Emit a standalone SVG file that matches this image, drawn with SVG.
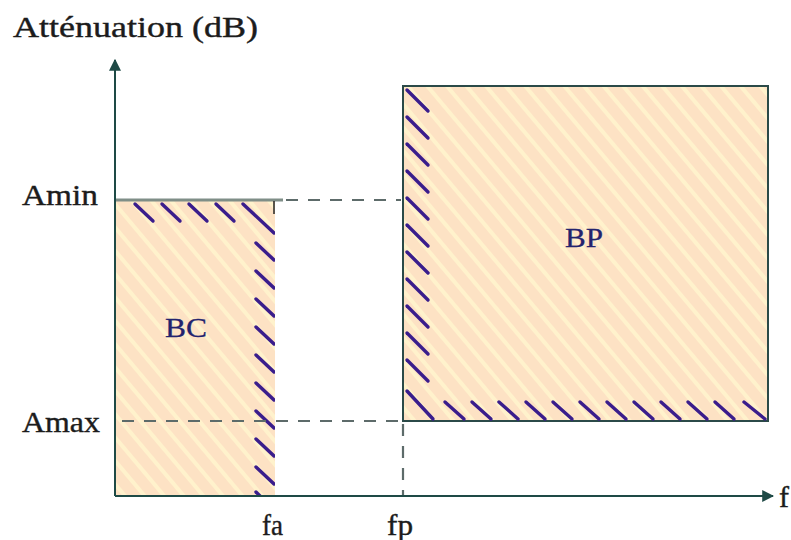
<svg xmlns="http://www.w3.org/2000/svg" width="791" height="540" viewBox="0 0 791 540">
<style>
.lbl{font-family:"Liberation Serif","Times New Roman",serif;fill:#1c1c1c;stroke:#1c1c1c;stroke-width:0.4;font-size:30px}
.zone{font-family:"Liberation Serif","Times New Roman",serif;fill:#23236e;stroke:#23236e;stroke-width:0.3;font-size:28px}
.axis{stroke:#1e4a46;stroke-width:2;fill:none}
.dash{stroke:#5d6b6a;stroke-width:2.2;stroke-dasharray:12 10;fill:none}
.hatch{stroke:#3a1d8c;stroke-width:3.4;stroke-linecap:round;fill:none}
.fill{fill:url(#stripes)}
</style>
<defs>
<pattern id="stripes" patternUnits="userSpaceOnUse" width="15" height="15" patternTransform="rotate(-40)">
<rect width="15" height="15" fill="#fde2c4"/>
<rect x="0" y="0" width="4" height="15" fill="#fff2cc"/>
</pattern>
<marker id="arr" viewBox="0 0 10 10" refX="9" refY="5" markerWidth="6" markerHeight="6" orient="auto-start-reverse" markerUnits="strokeWidth">
<path d="M0,0 L10,5 L0,10 z" fill="#1e4a46"/>
</marker>
<clipPath id="bcclip"><rect x="115" y="200" width="160" height="296"/></clipPath>
</defs>

<rect width="791" height="540" fill="#ffffff"/>

<g id="BC">
<rect class="fill" x="115" y="200" width="160" height="296"/>
<g class="hatch" clip-path="url(#bcclip)">
<line x1="135" y1="204" x2="153" y2="221"/>
<line x1="162" y1="204" x2="180" y2="221"/>
<line x1="189" y1="204" x2="207" y2="221"/>
<line x1="216" y1="204" x2="234" y2="221"/>
<line x1="243" y1="204" x2="274" y2="233"/>
<line x1="256" y1="243" x2="274" y2="260"/>
<line x1="256" y1="271" x2="274" y2="288"/>
<line x1="256" y1="299" x2="274" y2="316"/>
<line x1="256" y1="327" x2="274" y2="344"/>
<line x1="256" y1="355" x2="274" y2="372"/>
<line x1="256" y1="383" x2="274" y2="400"/>
<line x1="256" y1="411" x2="274" y2="428"/>
<line x1="256" y1="439" x2="274" y2="456"/>
<line x1="256" y1="467" x2="274" y2="484"/>
<line x1="256" y1="492" x2="262" y2="498"/>
</g>
<line x1="115" y1="200" x2="283" y2="200" stroke="#7f8e87" stroke-width="3"/>
<line x1="274" y1="201" x2="274" y2="214" stroke="#222" stroke-width="1.5"/>
<text class="zone" x="165" y="337" textLength="42" lengthAdjust="spacingAndGlyphs">BC</text>
</g>

<g id="BP">
<rect class="fill" x="403" y="86" width="365" height="335" stroke="#2b4a48" stroke-width="2"/>
<g class="hatch">
<line x1="407" y1="90" x2="428" y2="111"/>
<line x1="407" y1="117" x2="428" y2="138"/>
<line x1="407" y1="144" x2="428" y2="165"/>
<line x1="407" y1="171" x2="428" y2="192"/>
<line x1="407" y1="198" x2="428" y2="219"/>
<line x1="407" y1="225" x2="428" y2="246"/>
<line x1="407" y1="252" x2="428" y2="273"/>
<line x1="407" y1="279" x2="428" y2="300"/>
<line x1="407" y1="306" x2="428" y2="327"/>
<line x1="407" y1="333" x2="428" y2="354"/>
<line x1="407" y1="360" x2="428" y2="381"/>
<line x1="407" y1="391" x2="433" y2="419"/>
<line x1="445" y1="402" x2="464" y2="419"/>
<line x1="472" y1="402" x2="491" y2="419"/>
<line x1="499" y1="402" x2="518" y2="419"/>
<line x1="526" y1="402" x2="545" y2="419"/>
<line x1="553" y1="402" x2="572" y2="419"/>
<line x1="580" y1="402" x2="599" y2="419"/>
<line x1="607" y1="402" x2="626" y2="419"/>
<line x1="634" y1="402" x2="653" y2="419"/>
<line x1="661" y1="402" x2="680" y2="419"/>
<line x1="688" y1="402" x2="707" y2="419"/>
<line x1="715" y1="402" x2="734" y2="419"/>
<line x1="744" y1="402" x2="765" y2="419"/>
</g>
<text class="zone" x="565" y="247" textLength="38" lengthAdjust="spacingAndGlyphs">BP</text>
</g>

<g id="connectors">
<line class="axis" x1="115" y1="496" x2="115" y2="60" marker-end="url(#arr)"/>
<line class="axis" x1="115" y1="496" x2="773" y2="496" marker-end="url(#arr)"/>
<line class="dash" x1="286" y1="200" x2="401" y2="200"/>
<line class="dash" x1="122" y1="421" x2="402" y2="421"/>
<line class="dash" x1="403" y1="424" x2="403" y2="495"/>
</g>

<g id="labels">
<text class="lbl" x="13" y="37" textLength="245" lengthAdjust="spacingAndGlyphs">Atténuation (dB)</text>
<text class="lbl" x="22" y="205" textLength="76" lengthAdjust="spacingAndGlyphs">Amin</text>
<text class="lbl" x="22" y="432" textLength="78" lengthAdjust="spacingAndGlyphs">Amax</text>
<text class="lbl" x="262" y="535" textLength="21" lengthAdjust="spacingAndGlyphs">fa</text>
<text class="lbl" x="387" y="535" textLength="26" lengthAdjust="spacingAndGlyphs">fp</text>
<text class="lbl" x="779" y="507">f</text>
</g>
</svg>
